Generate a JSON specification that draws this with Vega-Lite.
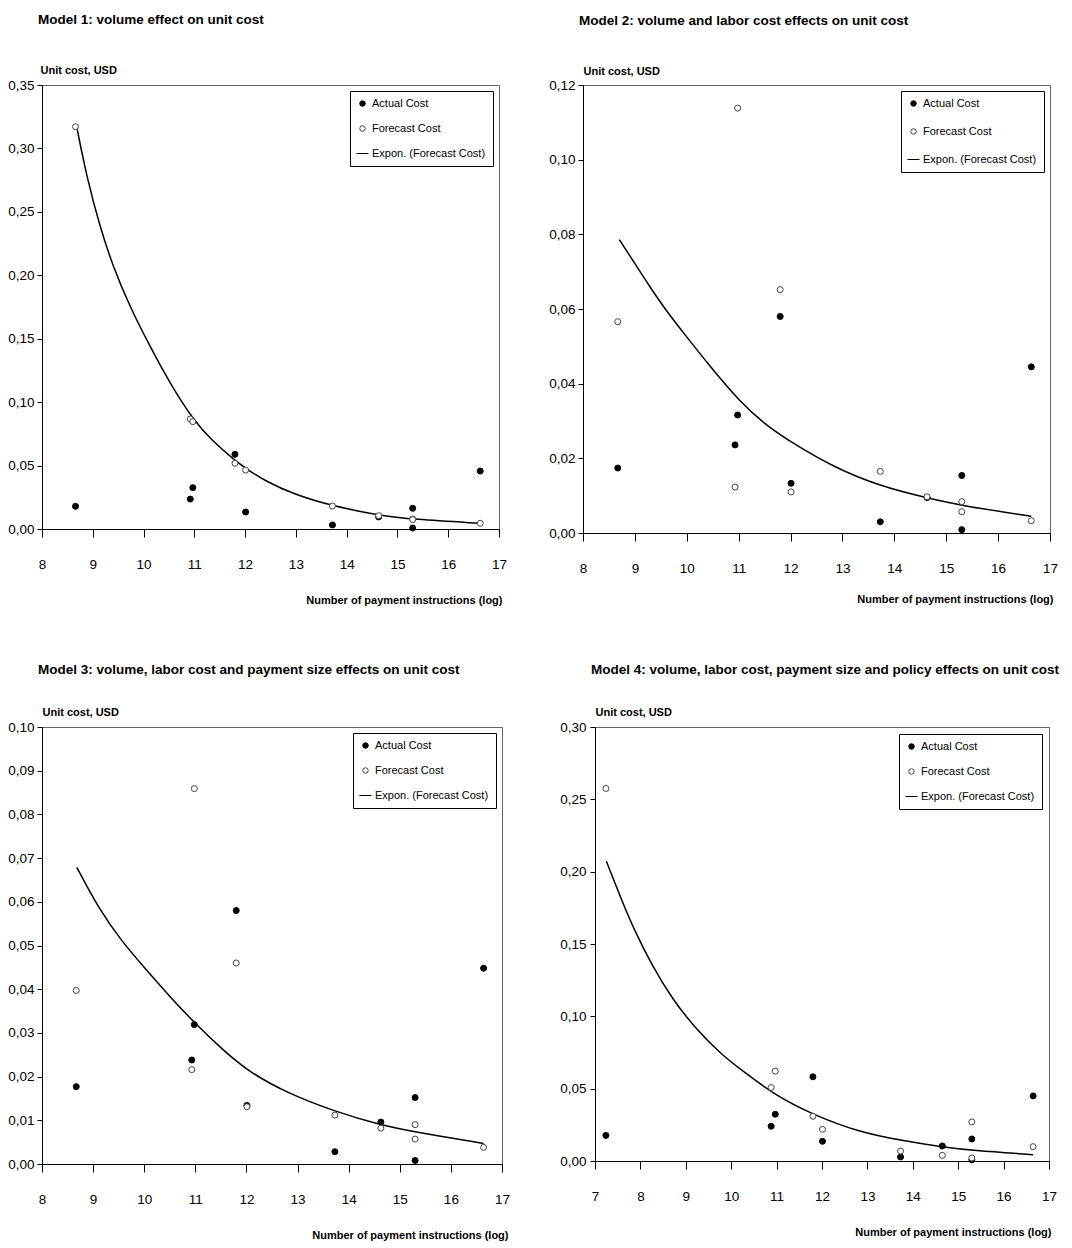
{
  "$schema": "https://vega.github.io/schema/vega-lite/v6.json",
  "background": "white",
  "padding": {"left": 7, "top": 12, "right": 5, "bottom": 5},
  "datasets": {
    "points": [
      {"model": 1, "series": "Actual Cost", "x": 8.66, "y": 0.0179},
      {"model": 1, "series": "Actual Cost", "x": 10.92, "y": 0.0236},
      {"model": 1, "series": "Actual Cost", "x": 10.97, "y": 0.0326},
      {"model": 1, "series": "Actual Cost", "x": 11.80, "y": 0.0589},
      {"model": 1, "series": "Actual Cost", "x": 12.01, "y": 0.0134},
      {"model": 1, "series": "Actual Cost", "x": 13.72, "y": 0.0032},
      {"model": 1, "series": "Actual Cost", "x": 14.63, "y": 0.0095},
      {"model": 1, "series": "Actual Cost", "x": 15.30, "y": 0.0163},
      {"model": 1, "series": "Actual Cost", "x": 15.30, "y": 0.0008},
      {"model": 1, "series": "Actual Cost", "x": 16.63, "y": 0.0457},
      {"model": 1, "series": "Forecast Cost", "x": 8.66, "y": 0.3171},
      {"model": 1, "series": "Forecast Cost", "x": 10.92, "y": 0.0867},
      {"model": 1, "series": "Forecast Cost", "x": 10.97, "y": 0.0846},
      {"model": 1, "series": "Forecast Cost", "x": 11.80, "y": 0.0518},
      {"model": 1, "series": "Forecast Cost", "x": 12.01, "y": 0.0465},
      {"model": 1, "series": "Forecast Cost", "x": 13.72, "y": 0.0181},
      {"model": 1, "series": "Forecast Cost", "x": 14.63, "y": 0.0105},
      {"model": 1, "series": "Forecast Cost", "x": 15.30, "y": 0.0079},
      {"model": 1, "series": "Forecast Cost", "x": 15.30, "y": 0.0074},
      {"model": 1, "series": "Forecast Cost", "x": 16.63, "y": 0.0045},
      {"model": 2, "series": "Actual Cost", "x": 8.67, "y": 0.0174},
      {"model": 2, "series": "Actual Cost", "x": 10.93, "y": 0.0236},
      {"model": 2, "series": "Actual Cost", "x": 10.98, "y": 0.0316},
      {"model": 2, "series": "Actual Cost", "x": 11.80, "y": 0.0580},
      {"model": 2, "series": "Actual Cost", "x": 12.01, "y": 0.0133},
      {"model": 2, "series": "Actual Cost", "x": 13.73, "y": 0.0030},
      {"model": 2, "series": "Actual Cost", "x": 14.63, "y": 0.0095},
      {"model": 2, "series": "Actual Cost", "x": 15.30, "y": 0.0154},
      {"model": 2, "series": "Actual Cost", "x": 15.30, "y": 0.0009},
      {"model": 2, "series": "Actual Cost", "x": 16.64, "y": 0.0445},
      {"model": 2, "series": "Forecast Cost", "x": 8.67, "y": 0.0566},
      {"model": 2, "series": "Forecast Cost", "x": 10.93, "y": 0.0123},
      {"model": 2, "series": "Forecast Cost", "x": 10.98, "y": 0.1138},
      {"model": 2, "series": "Forecast Cost", "x": 11.80, "y": 0.0652},
      {"model": 2, "series": "Forecast Cost", "x": 12.01, "y": 0.0110},
      {"model": 2, "series": "Forecast Cost", "x": 13.73, "y": 0.0165},
      {"model": 2, "series": "Forecast Cost", "x": 14.63, "y": 0.0097},
      {"model": 2, "series": "Forecast Cost", "x": 15.30, "y": 0.0084},
      {"model": 2, "series": "Forecast Cost", "x": 15.30, "y": 0.0057},
      {"model": 2, "series": "Forecast Cost", "x": 16.64, "y": 0.0033},
      {"model": 3, "series": "Actual Cost", "x": 8.67, "y": 0.0177},
      {"model": 3, "series": "Actual Cost", "x": 10.93, "y": 0.0238},
      {"model": 3, "series": "Actual Cost", "x": 10.98, "y": 0.0319},
      {"model": 3, "series": "Actual Cost", "x": 11.80, "y": 0.0580},
      {"model": 3, "series": "Actual Cost", "x": 12.01, "y": 0.0134},
      {"model": 3, "series": "Actual Cost", "x": 13.73, "y": 0.0028},
      {"model": 3, "series": "Actual Cost", "x": 14.63, "y": 0.0096},
      {"model": 3, "series": "Actual Cost", "x": 15.30, "y": 0.0152},
      {"model": 3, "series": "Actual Cost", "x": 15.30, "y": 0.0008},
      {"model": 3, "series": "Actual Cost", "x": 16.64, "y": 0.0448},
      {"model": 3, "series": "Forecast Cost", "x": 8.67, "y": 0.0397},
      {"model": 3, "series": "Forecast Cost", "x": 10.93, "y": 0.0216},
      {"model": 3, "series": "Forecast Cost", "x": 10.98, "y": 0.0859},
      {"model": 3, "series": "Forecast Cost", "x": 11.80, "y": 0.0460},
      {"model": 3, "series": "Forecast Cost", "x": 12.01, "y": 0.0131},
      {"model": 3, "series": "Forecast Cost", "x": 13.73, "y": 0.0112},
      {"model": 3, "series": "Forecast Cost", "x": 14.63, "y": 0.0082},
      {"model": 3, "series": "Forecast Cost", "x": 15.30, "y": 0.0090},
      {"model": 3, "series": "Forecast Cost", "x": 15.30, "y": 0.0057},
      {"model": 3, "series": "Forecast Cost", "x": 16.64, "y": 0.0038},
      {"model": 4, "series": "Actual Cost", "x": 7.24, "y": 0.0177},
      {"model": 4, "series": "Actual Cost", "x": 10.88, "y": 0.0240},
      {"model": 4, "series": "Actual Cost", "x": 10.97, "y": 0.0323},
      {"model": 4, "series": "Actual Cost", "x": 11.80, "y": 0.0582},
      {"model": 4, "series": "Actual Cost", "x": 12.01, "y": 0.0136},
      {"model": 4, "series": "Actual Cost", "x": 13.73, "y": 0.0028},
      {"model": 4, "series": "Actual Cost", "x": 14.65, "y": 0.0104},
      {"model": 4, "series": "Actual Cost", "x": 15.30, "y": 0.0152},
      {"model": 4, "series": "Actual Cost", "x": 15.30, "y": 0.0008},
      {"model": 4, "series": "Actual Cost", "x": 16.65, "y": 0.0450},
      {"model": 4, "series": "Forecast Cost", "x": 7.24, "y": 0.2575},
      {"model": 4, "series": "Forecast Cost", "x": 10.88, "y": 0.0508},
      {"model": 4, "series": "Forecast Cost", "x": 10.97, "y": 0.0621},
      {"model": 4, "series": "Forecast Cost", "x": 11.80, "y": 0.0309},
      {"model": 4, "series": "Forecast Cost", "x": 12.01, "y": 0.0219},
      {"model": 4, "series": "Forecast Cost", "x": 13.73, "y": 0.0069},
      {"model": 4, "series": "Forecast Cost", "x": 14.65, "y": 0.0039},
      {"model": 4, "series": "Forecast Cost", "x": 15.30, "y": 0.0270},
      {"model": 4, "series": "Forecast Cost", "x": 15.30, "y": 0.0021},
      {"model": 4, "series": "Forecast Cost", "x": 16.65, "y": 0.0099}
    ],
    "trend": [
      {"model": 1, "x": 8.68, "y": 0.3177},
      {"model": 1, "x": 8.88, "y": 0.2777},
      {"model": 1, "x": 9.14, "y": 0.2383},
      {"model": 1, "x": 9.40, "y": 0.2068},
      {"model": 1, "x": 9.73, "y": 0.1752},
      {"model": 1, "x": 10.13, "y": 0.1437},
      {"model": 1, "x": 10.52, "y": 0.1148},
      {"model": 1, "x": 10.98, "y": 0.0859},
      {"model": 1, "x": 11.34, "y": 0.0700},
      {"model": 1, "x": 11.80, "y": 0.0540},
      {"model": 1, "x": 12.01, "y": 0.0478},
      {"model": 1, "x": 12.42, "y": 0.0373},
      {"model": 1, "x": 12.95, "y": 0.0276},
      {"model": 1, "x": 13.72, "y": 0.0181},
      {"model": 1, "x": 14.63, "y": 0.0108},
      {"model": 1, "x": 15.30, "y": 0.0076},
      {"model": 1, "x": 16.63, "y": 0.0045},
      {"model": 2, "x": 8.70, "y": 0.0786},
      {"model": 2, "x": 8.97, "y": 0.0728},
      {"model": 2, "x": 9.29, "y": 0.0659},
      {"model": 2, "x": 9.61, "y": 0.0594},
      {"model": 2, "x": 10.00, "y": 0.0525},
      {"model": 2, "x": 10.45, "y": 0.0446},
      {"model": 2, "x": 11.03, "y": 0.0350},
      {"model": 2, "x": 11.54, "y": 0.0287},
      {"model": 2, "x": 12.05, "y": 0.0240},
      {"model": 2, "x": 12.82, "y": 0.0177},
      {"model": 2, "x": 13.73, "y": 0.0125},
      {"model": 2, "x": 14.63, "y": 0.0094},
      {"model": 2, "x": 15.30, "y": 0.0073},
      {"model": 2, "x": 16.64, "y": 0.0045},
      {"model": 3, "x": 8.68, "y": 0.0679},
      {"model": 3, "x": 9.11, "y": 0.0584},
      {"model": 3, "x": 9.57, "y": 0.0508},
      {"model": 3, "x": 10.02, "y": 0.0447},
      {"model": 3, "x": 10.54, "y": 0.0378},
      {"model": 3, "x": 11.00, "y": 0.0321},
      {"model": 3, "x": 11.52, "y": 0.0263},
      {"model": 3, "x": 12.01, "y": 0.0214},
      {"model": 3, "x": 12.76, "y": 0.0164},
      {"model": 3, "x": 13.73, "y": 0.0120},
      {"model": 3, "x": 14.63, "y": 0.0089},
      {"model": 3, "x": 15.30, "y": 0.0073},
      {"model": 3, "x": 16.64, "y": 0.0047},
      {"model": 4, "x": 7.25, "y": 0.2072},
      {"model": 4, "x": 7.59, "y": 0.1800},
      {"model": 4, "x": 7.88, "y": 0.1587},
      {"model": 4, "x": 8.25, "y": 0.1355},
      {"model": 4, "x": 8.69, "y": 0.1125},
      {"model": 4, "x": 9.21, "y": 0.0917},
      {"model": 4, "x": 9.79, "y": 0.0732},
      {"model": 4, "x": 10.38, "y": 0.0593},
      {"model": 4, "x": 10.97, "y": 0.0455},
      {"model": 4, "x": 11.80, "y": 0.0320},
      {"model": 4, "x": 12.81, "y": 0.0201},
      {"model": 4, "x": 13.73, "y": 0.0143},
      {"model": 4, "x": 14.65, "y": 0.0097},
      {"model": 4, "x": 15.30, "y": 0.0073},
      {"model": 4, "x": 16.65, "y": 0.0044}
    ]
  },
  "config": {
    "font": "Liberation Sans, Arial, sans-serif",
    "view": {"stroke": "#666666", "strokeWidth": 1},
    "axis": {
      "grid": false,
      "domainColor": "black",
      "tickColor": "black",
      "labelColor": "black",
      "titleColor": "black",
      "labelFontSize": 13.5,
      "titleFontSize": 11,
      "titleFontWeight": "bold",
      "labelFlush": false,
      "labelFont": "Liberation Sans, Arial, sans-serif",
      "titleFont": "Liberation Sans, Arial, sans-serif"
    },
    "axisX": {"tickSize": 8, "labelPadding": 20, "titleAlign": "right", "titleBaseline": "middle", "titleY": 71},
    "axisY": {"tickSize": 5, "labelPadding": 3, "titleAngle": 0, "titleAlign": "left", "titleBaseline": "middle", "titleX": -2, "titleY": -15},
    "legend": {
      "orient": "top-right",
      "offset": 6,
      "padding": 7,
      "strokeColor": "black",
      "fillColor": "white",
      "labelFontSize": 11,
      "labelColor": "black",
      "labelFont": "Liberation Sans, Arial, sans-serif",
      "symbolSize": 30,
      "symbolStrokeWidth": 1,
      "rowPadding": 13,
      "labelOffset": 4
    },
    "title": {"fontSize": 13.5, "fontWeight": "bold", "anchor": "start", "frame": "group", "color": "black", "offset": 38, "dx": -4, "font": "Liberation Sans, Arial, sans-serif"}
  },
  "resolve": {"scale": {"fill": "independent", "shape": "independent", "stroke": "independent"}, "legend": {"fill": "independent", "shape": "independent", "stroke": "independent"}},
  "spacing": 56,
  "vconcat": [
    {
      "spacing": 40,
      "resolve": {"scale": {"fill": "independent", "shape": "independent", "stroke": "independent"}, "legend": {"fill": "independent", "shape": "independent", "stroke": "independent"}},
      "hconcat": [
        {
          "width": 457, "height": 444,
          "title": "Model 1: volume effect on unit cost",
          "layer": [
            {
              "data": {"name": "trend"},
              "transform": [{"filter": "datum.model == 1"}],
              "mark": {"type": "line", "color": "black", "strokeWidth": 1.5, "interpolate": "basis"},
              "encoding": {
                "x": {"field": "x", "type": "quantitative", "scale": {"domain": [8, 17], "nice": false}, "axis": {"values": [8, 9, 10, 11, 12, 13, 14, 15, 16, 17], "title": "Number of payment instructions (log)", "titleX": 460}},
                "y": {"field": "y", "type": "quantitative", "scale": {"domain": [0, 0.35], "nice": false}, "axis": {"values": [0, 0.05, 0.1, 0.15, 0.2, 0.25, 0.3, 0.35], "title": "Unit cost, USD", "labelExpr": "replace(format(datum.value, '.2f'), '.', ',')"}}
              }
            },
            {
              "data": {"name": "points"},
              "transform": [{"filter": "datum.model == 1"}],
              "mark": {"type": "point", "strokeWidth": 1, "size": 36, "opacity": 1},
              "encoding": {
                "x": {"field": "x", "type": "quantitative"},
                "y": {"field": "y", "type": "quantitative"},
                "fill": {"field": "series", "type": "nominal", "scale": {"domain": ["Actual Cost", "Forecast Cost", "Expon. (Forecast Cost)"], "range": ["black", "white", "white"]}, "legend": {"title": null, "orient": "top-right", "encode": {"symbols": {"update": {"strokeWidth": {"signal": "datum.value === 'Expon. (Forecast Cost)' ? 2 : 1"}}}}}},
                "stroke": {"field": "series", "type": "nominal", "scale": {"domain": ["Actual Cost", "Forecast Cost", "Expon. (Forecast Cost)"], "range": ["black", "#444444", "black"]}, "legend": {"title": null, "orient": "top-right", "encode": {"symbols": {"update": {"strokeWidth": {"signal": "datum.value === 'Expon. (Forecast Cost)' ? 2 : 1"}}}}}},
                "shape": {"field": "series", "type": "nominal", "scale": {"domain": ["Actual Cost", "Forecast Cost", "Expon. (Forecast Cost)"], "range": ["circle", "circle", "M-2.2,0H2.2"]}, "legend": {"title": null, "orient": "top-right", "encode": {"symbols": {"update": {"strokeWidth": {"signal": "datum.value === 'Expon. (Forecast Cost)' ? 2 : 1"}}}}}}
              }
            }
          ]
        },
        {
          "width": 467, "height": 448,
          "title": "Model 2: volume and labor cost effects on unit cost",
          "layer": [
            {
              "data": {"name": "trend"},
              "transform": [{"filter": "datum.model == 2"}],
              "mark": {"type": "line", "color": "black", "strokeWidth": 1.5, "interpolate": "basis"},
              "encoding": {
                "x": {"field": "x", "type": "quantitative", "scale": {"domain": [8, 17], "nice": false}, "axis": {"values": [8, 9, 10, 11, 12, 13, 14, 15, 16, 17], "title": "Number of payment instructions (log)", "titleX": 470, "titleY": 66}},
                "y": {"field": "y", "type": "quantitative", "scale": {"domain": [0, 0.12], "nice": false}, "axis": {"values": [0, 0.01, 0.02, 0.03, 0.04, 0.05, 0.06, 0.07, 0.08, 0.09, 0.1, 0.11, 0.12], "title": "Unit cost, USD", "titleX": 0, "titleY": -14, "labelExpr": "replace(format(datum.value, '.2f'), '.', ',')"}}
              }
            },
            {
              "data": {"name": "points"},
              "transform": [{"filter": "datum.model == 2"}],
              "mark": {"type": "point", "strokeWidth": 1, "size": 36, "opacity": 1},
              "encoding": {
                "x": {"field": "x", "type": "quantitative"},
                "y": {"field": "y", "type": "quantitative"},
                "fill": {"field": "series", "type": "nominal", "scale": {"domain": ["Actual Cost", "Forecast Cost", "Expon. (Forecast Cost)"], "range": ["black", "white", "white"]}, "legend": {"title": null, "orient": "top-right", "rowPadding": 16, "encode": {"symbols": {"update": {"strokeWidth": {"signal": "datum.value === 'Expon. (Forecast Cost)' ? 2 : 1"}}}}}},
                "stroke": {"field": "series", "type": "nominal", "scale": {"domain": ["Actual Cost", "Forecast Cost", "Expon. (Forecast Cost)"], "range": ["black", "#444444", "black"]}, "legend": {"title": null, "orient": "top-right", "rowPadding": 16, "encode": {"symbols": {"update": {"strokeWidth": {"signal": "datum.value === 'Expon. (Forecast Cost)' ? 2 : 1"}}}}}},
                "shape": {"field": "series", "type": "nominal", "scale": {"domain": ["Actual Cost", "Forecast Cost", "Expon. (Forecast Cost)"], "range": ["circle", "circle", "M-2.2,0H2.2"]}, "legend": {"title": null, "orient": "top-right", "rowPadding": 16, "encode": {"symbols": {"update": {"strokeWidth": {"signal": "datum.value === 'Expon. (Forecast Cost)' ? 2 : 1"}}}}}}
              }
            }
          ]
        }
      ]
    },
    {
      "spacing": 48,
      "resolve": {"scale": {"fill": "independent", "shape": "independent", "stroke": "independent"}, "legend": {"fill": "independent", "shape": "independent", "stroke": "independent"}},
      "hconcat": [
        {
          "width": 460, "height": 437,
          "title": {"text": "Model 3: volume, labor cost and payment size effects on unit cost", "offset": 30},
          "layer": [
            {
              "data": {"name": "trend"},
              "transform": [{"filter": "datum.model == 3"}],
              "mark": {"type": "line", "color": "black", "strokeWidth": 1.5, "interpolate": "basis"},
              "encoding": {
                "x": {"field": "x", "type": "quantitative", "scale": {"domain": [8, 17], "nice": false}, "axis": {"values": [8, 9, 10, 11, 12, 13, 14, 15, 16, 17], "title": "Number of payment instructions (log)", "titleX": 466}},
                "y": {"field": "y", "type": "quantitative", "scale": {"domain": [0, 0.1], "nice": false}, "axis": {"values": [0, 0.01, 0.02, 0.03, 0.04, 0.05, 0.06, 0.07, 0.08, 0.09, 0.1], "title": "Unit cost, USD", "titleX": 0, "labelExpr": "replace(format(datum.value, '.2f'), '.', ',')"}}
              }
            },
            {
              "data": {"name": "points"},
              "transform": [{"filter": "datum.model == 3"}],
              "mark": {"type": "point", "strokeWidth": 1, "size": 36, "opacity": 1},
              "encoding": {
                "x": {"field": "x", "type": "quantitative"},
                "y": {"field": "y", "type": "quantitative"},
                "fill": {"field": "series", "type": "nominal", "scale": {"domain": ["Actual Cost", "Forecast Cost", "Expon. (Forecast Cost)"], "range": ["black", "white", "white"]}, "legend": {"title": null, "orient": "top-right", "encode": {"symbols": {"update": {"strokeWidth": {"signal": "datum.value === 'Expon. (Forecast Cost)' ? 2 : 1"}}}}}},
                "stroke": {"field": "series", "type": "nominal", "scale": {"domain": ["Actual Cost", "Forecast Cost", "Expon. (Forecast Cost)"], "range": ["black", "#444444", "black"]}, "legend": {"title": null, "orient": "top-right", "encode": {"symbols": {"update": {"strokeWidth": {"signal": "datum.value === 'Expon. (Forecast Cost)' ? 2 : 1"}}}}}},
                "shape": {"field": "series", "type": "nominal", "scale": {"domain": ["Actual Cost", "Forecast Cost", "Expon. (Forecast Cost)"], "range": ["circle", "circle", "M-2.2,0H2.2"]}, "legend": {"title": null, "orient": "top-right", "encode": {"symbols": {"update": {"strokeWidth": {"signal": "datum.value === 'Expon. (Forecast Cost)' ? 2 : 1"}}}}}}
              }
            }
          ]
        },
        {
          "width": 454, "height": 434,
          "title": {"text": "Model 4: volume, labor cost, payment size and policy effects on unit cost", "offset": 30},
          "layer": [
            {
              "data": {"name": "trend"},
              "transform": [{"filter": "datum.model == 4"}],
              "mark": {"type": "line", "color": "black", "strokeWidth": 1.5, "interpolate": "basis"},
              "encoding": {
                "x": {"field": "x", "type": "quantitative", "scale": {"domain": [7, 17], "nice": false}, "axis": {"values": [7, 8, 9, 10, 11, 12, 13, 14, 15, 16, 17], "title": "Number of payment instructions (log)", "titleX": 456}},
                "y": {"field": "y", "type": "quantitative", "scale": {"domain": [0, 0.3], "nice": false}, "axis": {"values": [0, 0.05, 0.1, 0.15, 0.2, 0.25, 0.3], "title": "Unit cost, USD", "titleX": 0, "labelPadding": 4, "labelExpr": "replace(format(datum.value, '.2f'), '.', ',')"}}
              }
            },
            {
              "data": {"name": "points"},
              "transform": [{"filter": "datum.model == 4"}],
              "mark": {"type": "point", "strokeWidth": 1, "size": 36, "opacity": 1},
              "encoding": {
                "x": {"field": "x", "type": "quantitative"},
                "y": {"field": "y", "type": "quantitative"},
                "fill": {"field": "series", "type": "nominal", "scale": {"domain": ["Actual Cost", "Forecast Cost", "Expon. (Forecast Cost)"], "range": ["black", "white", "white"]}, "legend": {"title": null, "orient": "top-right", "offset": 7, "encode": {"symbols": {"update": {"strokeWidth": {"signal": "datum.value === 'Expon. (Forecast Cost)' ? 2 : 1"}}}}}},
                "stroke": {"field": "series", "type": "nominal", "scale": {"domain": ["Actual Cost", "Forecast Cost", "Expon. (Forecast Cost)"], "range": ["black", "#444444", "black"]}, "legend": {"title": null, "orient": "top-right", "offset": 7, "encode": {"symbols": {"update": {"strokeWidth": {"signal": "datum.value === 'Expon. (Forecast Cost)' ? 2 : 1"}}}}}},
                "shape": {"field": "series", "type": "nominal", "scale": {"domain": ["Actual Cost", "Forecast Cost", "Expon. (Forecast Cost)"], "range": ["circle", "circle", "M-2.2,0H2.2"]}, "legend": {"title": null, "orient": "top-right", "offset": 7, "encode": {"symbols": {"update": {"strokeWidth": {"signal": "datum.value === 'Expon. (Forecast Cost)' ? 2 : 1"}}}}}}
              }
            }
          ]
        }
      ]
    }
  ]
}
